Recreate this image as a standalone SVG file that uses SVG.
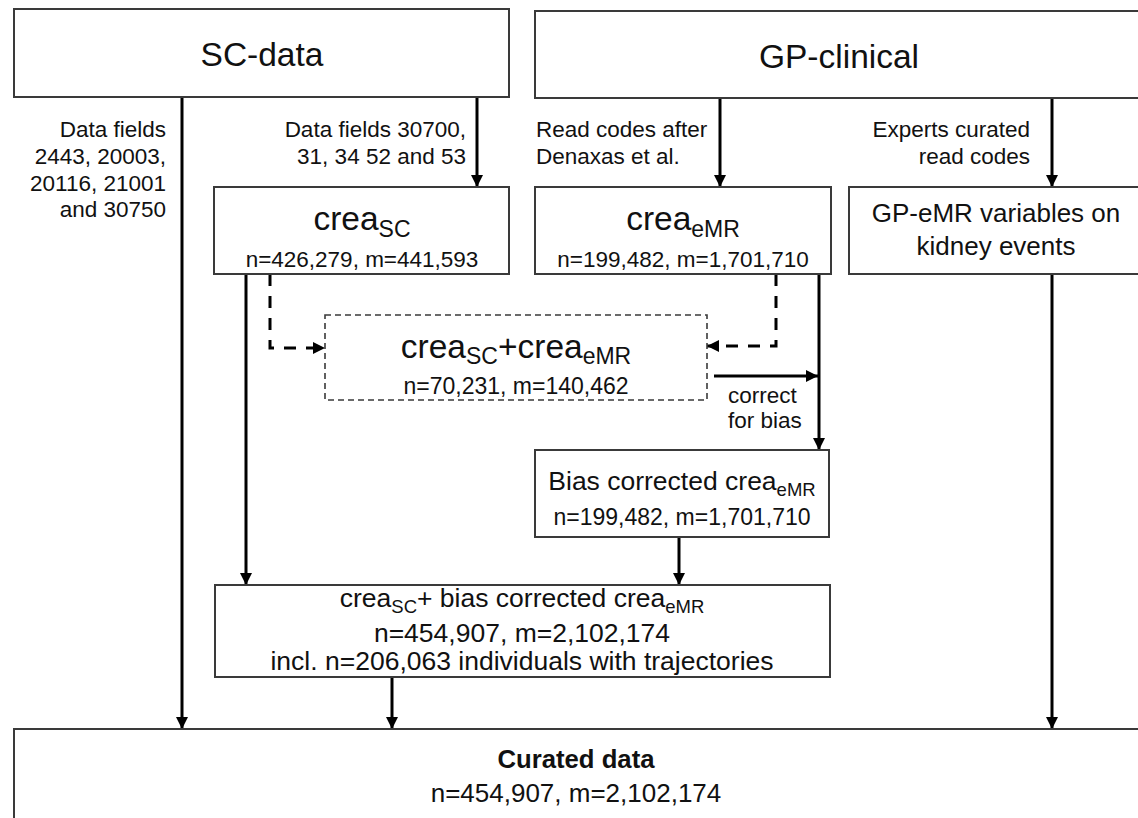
<svg xmlns="http://www.w3.org/2000/svg" width="1138" height="818" viewBox="0 0 1138 818">
  <style>
    text { font-family: "Liberation Sans", Arial, sans-serif; fill: #111; }
    .box { fill: #fff; stroke: #3a3a3a; stroke-width: 2; }
    .dbox { fill: #fff; stroke: #3a3a3a; stroke-width: 1.6; stroke-dasharray: 6 4; }
    .title { font-size: 33.5px; text-anchor: middle; }
    .big { font-size: 26.5px; text-anchor: middle; }
    .mid { font-size: 22.5px; text-anchor: middle; }
    .lbl { font-size: 22.5px; }
    .end { text-anchor: end; }
    .sub { font-size: 23px; }
    .sub2 { font-size: 18.5px; }
    .wire { fill: none; stroke: #000; stroke-width: 3; }
    .dash { fill: none; stroke: #000; stroke-width: 3; stroke-dasharray: 12 10; }
  </style>
  <defs>
    <marker id="arrow" markerUnits="userSpaceOnUse" markerWidth="12" markerHeight="12" viewBox="0 0 12 12" refX="12" refY="6" orient="auto">
      <path d="M0,0 L12,6 L0,12 Z" fill="#000"/>
    </marker>
  </defs>

  <!-- connectors -->
  <g id="connectors">
    <line class="wire" x1="182" y1="97" x2="182" y2="729" marker-end="url(#arrow)"/>
    <line class="wire" x1="477" y1="97" x2="477" y2="187" marker-end="url(#arrow)"/>
    <line class="wire" x1="720" y1="98" x2="720" y2="187" marker-end="url(#arrow)"/>
    <line class="wire" x1="1052" y1="98" x2="1052" y2="187" marker-end="url(#arrow)"/>
    <path class="dash" d="M270,274 V348 H325" marker-end="url(#arrow)"/>
    <path class="dash" d="M776,274 V346 H707" marker-end="url(#arrow)"/>
    <line class="wire" x1="714" y1="376" x2="818" y2="376" marker-end="url(#arrow)"/>
    <line class="wire" x1="819" y1="274" x2="819" y2="450" marker-end="url(#arrow)"/>
    <line class="wire" x1="246" y1="274" x2="246" y2="585" marker-end="url(#arrow)"/>
    <line class="wire" x1="679" y1="537" x2="679" y2="585" marker-end="url(#arrow)"/>
    <line class="wire" x1="392" y1="677" x2="392" y2="729" marker-end="url(#arrow)"/>
    <line class="wire" x1="1052" y1="274" x2="1052" y2="729" marker-end="url(#arrow)"/>

    <text class="lbl end" x="166" y="137">Data fields</text>
    <text class="lbl end" x="166" y="164">2443, 20003,</text>
    <text class="lbl end" x="166" y="191">20116, 21001</text>
    <text class="lbl end" x="166" y="217">and 30750</text>
    <text class="lbl end" x="466" y="137">Data fields 30700,</text>
    <text class="lbl end" x="466" y="164">31, 34 52 and 53</text>
    <text class="lbl" x="536" y="137">Read codes after</text>
    <text class="lbl" x="536" y="164">Denaxas et al.</text>
    <text class="lbl end" x="1030" y="137">Experts curated</text>
    <text class="lbl end" x="1030" y="164">read codes</text>
    <text class="lbl" x="728" y="403">correct</text>
    <text class="lbl" x="728" y="428">for bias</text>
  </g>

  <g id="sc-data">
    <rect class="box" x="14" y="9" width="495" height="88"/>
    <text class="title" x="262" y="66">SC-data</text>
  </g>

  <g id="gp-clinical">
    <rect class="box" x="535" y="11" width="610" height="87"/>
    <text class="title" x="839" y="68">GP-clinical</text>
  </g>

  <g id="crea-sc">
    <rect class="box" x="214" y="187" width="295" height="87"/>
    <text class="title" x="362" y="230">crea<tspan class="sub" dy="7">SC</tspan></text>
    <text class="mid" x="362" y="267">n=426,279, m=441,593</text>
  </g>

  <g id="crea-emr">
    <rect class="box" x="535" y="187" width="296" height="87"/>
    <text class="title" x="683" y="230">crea<tspan class="sub" dy="7">eMR</tspan></text>
    <text class="mid" x="683" y="267">n=199,482, m=1,701,710</text>
  </g>

  <g id="gp-emr">
    <rect class="box" x="849" y="187" width="296" height="87"/>
    <text class="big" x="996" y="222" style="font-size:26px">GP-eMR variables on</text>
    <text class="big" x="996" y="255" style="font-size:26px">kidney events</text>
  </g>

  <g id="crea-overlap">
    <rect class="dbox" x="325" y="315" width="382" height="85"/>
    <text class="title" x="516" y="358">crea<tspan class="sub" dy="6">SC</tspan><tspan dy="-6">+crea</tspan><tspan class="sub" dy="6">eMR</tspan></text>
    <text class="mid" x="516" y="394" style="font-size:23px">n=70,231, m=140,462</text>
  </g>

  <g id="bias-corrected">
    <rect class="box" x="535" y="450" width="294" height="87"/>
    <text class="big" x="682" y="490">Bias corrected crea<tspan class="sub2" dy="6">eMR</tspan></text>
    <text class="mid" x="682" y="525" style="font-size:23px">n=199,482, m=1,701,710</text>
  </g>

  <g id="combined">
    <rect class="box" x="215" y="585" width="615" height="92"/>
    <text class="big" x="522" y="607">crea<tspan class="sub2" dy="6">SC</tspan><tspan dy="-6">+ bias corrected crea</tspan><tspan class="sub2" dy="6">eMR</tspan></text>
    <text class="big" x="522" y="642">n=454,907, m=2,102,174</text>
    <text class="big" x="522" y="670">incl. n=206,063 individuals with trajectories</text>
  </g>

  <g id="curated">
    <rect class="box" x="14" y="729" width="1130" height="95"/>
    <text class="big" x="576" y="768" style="font-weight:bold;font-size:25.7px">Curated data</text>
    <text class="big" x="576" y="802" style="font-size:26px">n=454,907, m=2,102,174</text>
  </g>
</svg>
